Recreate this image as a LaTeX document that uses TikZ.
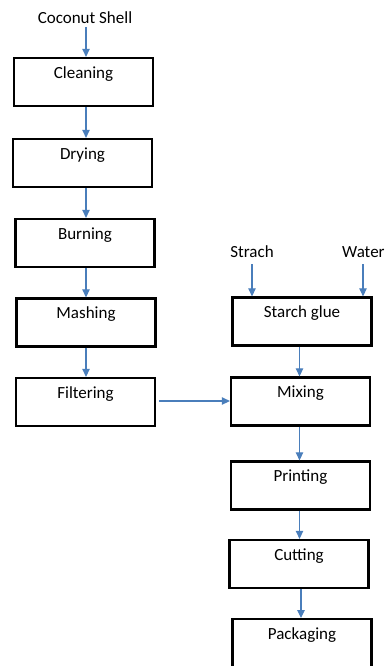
\documentclass[tikz,border=0pt]{standalone}
\usepackage{fontspec}
\setmainfont{Carlito}
\usetikzlibrary{arrows.meta}
\definecolor{flowblue}{HTML}{4A7EBB}
\tikzset{
  stage/.style={draw=black, line width=2.3pt, minimum width=139pt, minimum height=48pt, inner sep=0pt},
  stagetext/.style={anchor=mid, font=\fontsize{17}{20}\selectfont},
  plain/.style={font=\fontsize{17}{20}\selectfont, inner sep=0pt},
  arr/.style={draw=flowblue, line width=1.2pt, -{Triangle[length=8pt,width=7.5pt]}}
}
\newcommand{\stagebox}[4]{%
  \node[stage] (#1) at (#2,#3) {};
  \node[stagetext] (#1t) at ([yshift=-19pt]#1.north) {#4};
}
\begin{document}
\begin{tikzpicture}[x=1pt,y=-1pt]
\useasboundingbox (0,0) rectangle (384,666);
\begin{scope}
\clip (0,0) rectangle (384,666);
% left column
\stagebox{cleaning}{83.5}{82}{Cleaning}
\stagebox{drying}{82.5}{163}{Drying}
\stagebox{burning}{85}{243}{Burning}
\stagebox{mashing}{86}{322.5}{Mashing}
\stagebox{filtering}{85.5}{402}{Filtering}
% right column
\stagebox{starch}{302}{321.5}{Starch glue}
\stagebox{mixing}{300.5}{401.5}{Mixing}
\stagebox{printing}{300.5}{485.5}{Printing}
\stagebox{cutting}{299}{564}{Cutting}
\stagebox{packaging}{302}{643}{Packaging}

% inputs
\node[plain] (shell) at (85,18) {Coconut Shell};
\node[plain] (strach) at (252,252) {Strach};
\node[plain, anchor=west] (water) at (342,252) {Water};

\coordinate (colL) at (86,0);
\coordinate (colR) at (299.5,0);
\coordinate (colS) at (252,0);
\coordinate (colW) at (363,0);

\draw[arr] (colL |- 0,27) -- (colL |- cleaning.north);
\draw[arr] (colL |- cleaning.south) -- (colL |- drying.north);
\draw[arr] (colL |- drying.south) -- (colL |- burning.north);
\draw[arr] (colL |- burning.south) -- (colL |- mashing.north);
\draw[arr] (colL |- mashing.south) -- (colL |- filtering.north);

\draw[arr] (colS |- 0,264) -- (colS |- starch.north);
\draw[arr] (colW |- 0,264) -- (colW |- starch.north);

\draw[arr] (colR |- starch.south) -- (colR |- mixing.north);
\draw[arr] (159,401) -- (mixing.west |- 0,401);
\draw[arr] (colR |- mixing.south) -- (colR |- printing.north);
\draw[arr] (colR |- printing.south) -- (colR |- cutting.north);
\draw[arr] (301,589) -- (301,618);
\end{scope}
\end{tikzpicture}
\end{document}
